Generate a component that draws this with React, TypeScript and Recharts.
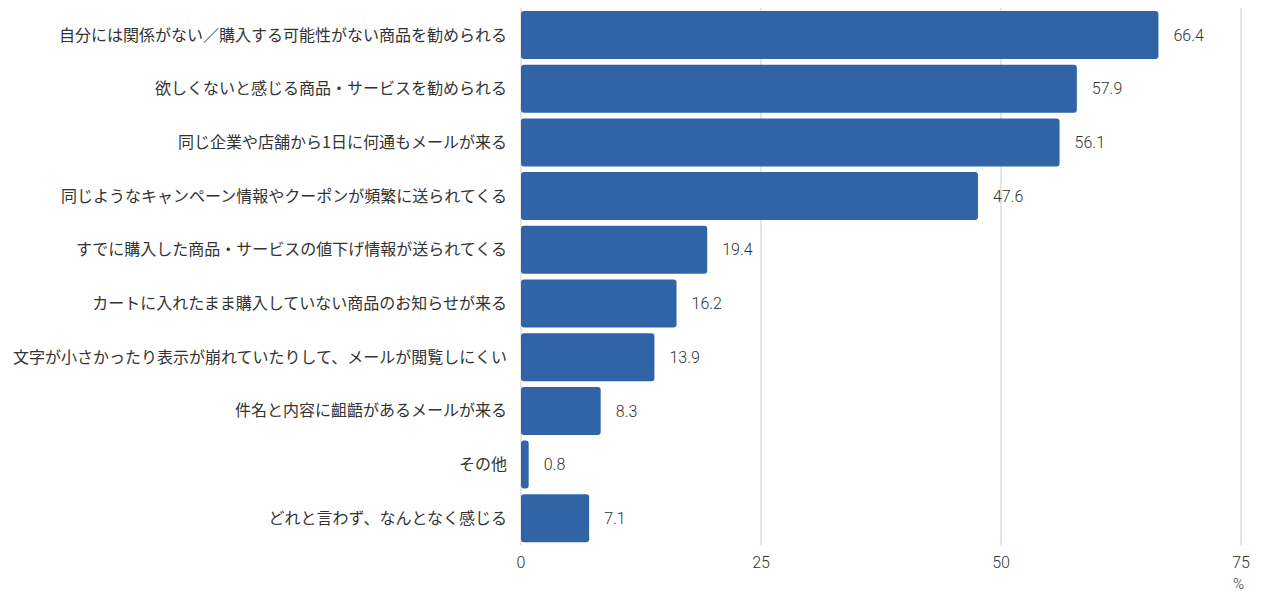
import React from "react"
import { BarChart, Bar, XAxis, YAxis, CartesianGrid, LabelList } from "recharts"

const categories = [
  "自分には関係がない／購入する可能性がない商品を勧められる",
  "欲しくないと感じる商品・サービスを勧められる",
  "同じ企業や店舗から1日に何通もメールが来る",
  "同じようなキャンペーン情報やクーポンが頻繁に送られてくる",
  "すでに購入した商品・サービスの値下げ情報が送られてくる",
  "カートに入れたまま購入していない商品のお知らせが来る",
  "文字が小さかったり表示が崩れていたりして、メールが閲覧しにくい",
  "件名と内容に齟齬があるメールが来る",
  "その他",
  "どれと言わず、なんとなく感じる",
]
const values = [66.4, 57.9, 56.1, 47.6, 19.4, 16.2, 13.9, 8.3, 0.8, 7.1]
const xTicks = [0, 25, 50, 75]

const data = categories.map((name, i) => ({ name, value: values[i] }))

const jpFont = "'Noto Sans CJK JP', 'Noto Sans', sans-serif"
const numFont = "Roboto, sans-serif"

export default function App() {
  return (
    <div style={{ position: "absolute", left: 0, top: 0, width: 1280, height: 592, background: "#fff" }}>
      <BarChart
        width={1280}
        height={592}
        data={data}
        layout="vertical"
        margin={{ top: 8, right: 39, bottom: 0, left: 0 }}
        barCategoryGap={3}
      >
        <CartesianGrid horizontal={false} stroke="#cccccc" />
        <XAxis
          type="number"
          domain={[0, 75]}
          ticks={xTicks}
          axisLine={false}
          tickLine={false}
          height={47}
          tickMargin={6}
          tick={{ fontSize: 16, fill: "#333", fontFamily: numFont, fontWeight: 300 }}
          label={{ value: "%", position: "insideBottomRight", offset: 0, dx: 3, dy: -3, fontSize: 15, fill: "#333", fontFamily: numFont, fontWeight: 300 }}
        />
        <YAxis
          type="category"
          dataKey="name"
          width={521}
          axisLine={false}
          tickLine={false}
          tickMargin={8}
          interval={0}
          tick={{ fontSize: 16, fill: "#333", fontFamily: jpFont }}
        />
        <Bar dataKey="value" fill="#3164a6" radius={3} isAnimationActive={false}>
          <LabelList
            dataKey="value"
            position="right"
            offset={15}
            style={{ fontSize: 16, fill: "#333", fontFamily: numFont, fontWeight: 300 }}
          />
        </Bar>
      </BarChart>
    </div>
  )
}
